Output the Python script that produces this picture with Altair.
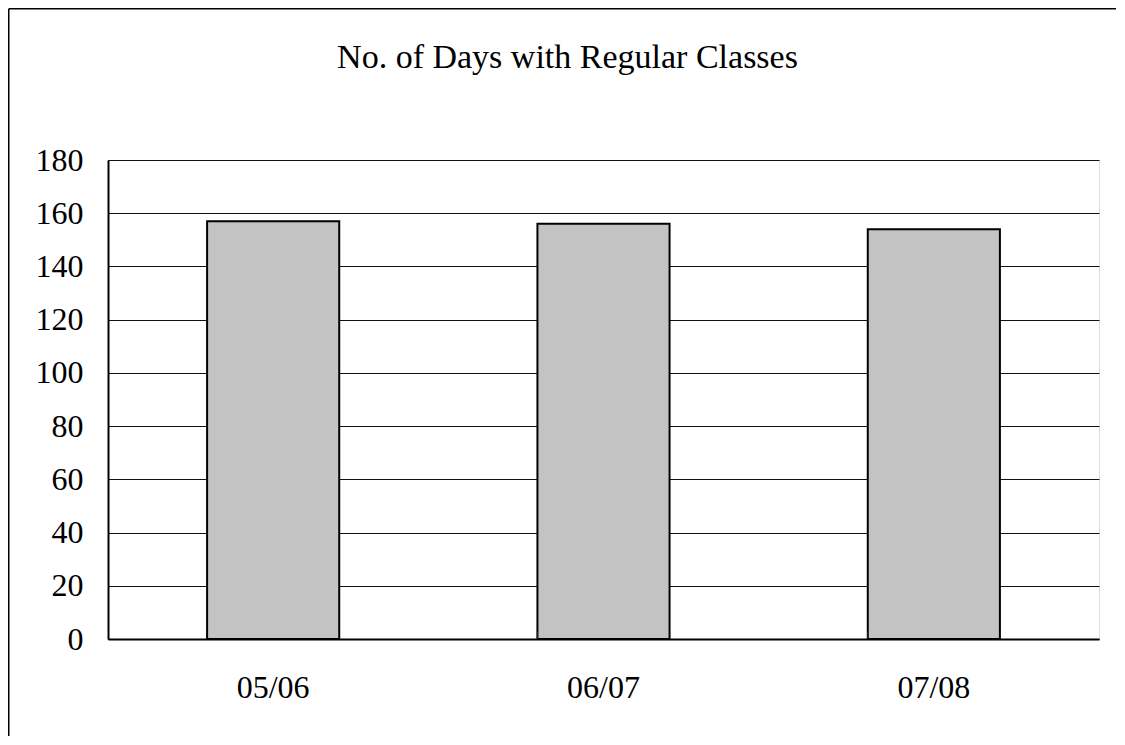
import altair as alt
import pandas as pd

# ---- data ----
years = ["05/06", "06/07", "07/08"]
days = [157, 156, 154]
y_tick_values = [0, 20, 40, 60, 80, 100, 120, 140, 160, 180]
title_text = "No. of Days with Regular Classes"

df = pd.DataFrame({"year": years, "days": days})
tick_df = pd.DataFrame({"year": years[1:]})
one = pd.DataFrame({"k": [0]})

FONT = "Liberation Serif"
W, H = 991, 479

x_scale = alt.Scale(paddingInner=0.6, paddingOuter=0.3)
y_scale = alt.Scale(domain=[0, 180], nice=False)

x_enc = alt.X(
    "year:N", sort=years, scale=x_scale,
    axis=alt.Axis(title=None, labelAngle=0, ticks=False, grid=False,
                  domainColor="black", domainWidth=2,
                  labelFont=FONT, labelFontSize=32, labelColor="black",
                  labelPadding=58, labelBaseline="alphabetic"),
)
y_enc = alt.Y(
    "days:Q", scale=y_scale,
    axis=alt.Axis(title=None, values=y_tick_values, ticks=False,
                  labelPadding=25, domainColor="black", domainWidth=2,
                  grid=True, gridColor="#111111", gridWidth=1,
                  labelFont=FONT, labelFontSize=32, labelColor="black"),
)

bars = alt.Chart(df).mark_bar(
    color="#c3c3c3", stroke="black", strokeWidth=2
).encode(x=x_enc, y=y_enc)

inner_ticks = alt.Chart(tick_df).mark_rule(color="#222222", strokeWidth=1.2).encode(
    x=alt.X("year:N", sort=years, bandPosition=0),
    y=alt.value(H),
    y2=alt.value(H - 8),
)

title = alt.Chart(one).mark_text(
    text=title_text, font=FONT, fontSize=34, color="black",
    align="center", baseline="alphabetic"
).encode(x=alt.value(459.5), y=alt.value(-92))

frame_top = alt.Chart(one).mark_rule(color="black", strokeWidth=1.5).encode(
    x=alt.value(-99.25), x2=alt.value(W + 40), y=alt.value(-151.25)
)
frame_left = alt.Chart(one).mark_rule(color="black", strokeWidth=1.5).encode(
    x=alt.value(-99.25), y=alt.value(-151.25), y2=alt.value(H + 120)
)

chart = alt.layer(bars, inner_ticks, title, frame_top, frame_left).properties(
    width=W,
    height=H,
    padding={"left": 100, "top": 152, "right": 17, "bottom": 97},
    autosize=alt.AutoSizeParams(type="none"),
).configure_view(
    stroke="#888888", strokeWidth=1.5
).configure(background="white")

chart.save("out.html", embed_options={"renderer": "svg", "actions": False})
